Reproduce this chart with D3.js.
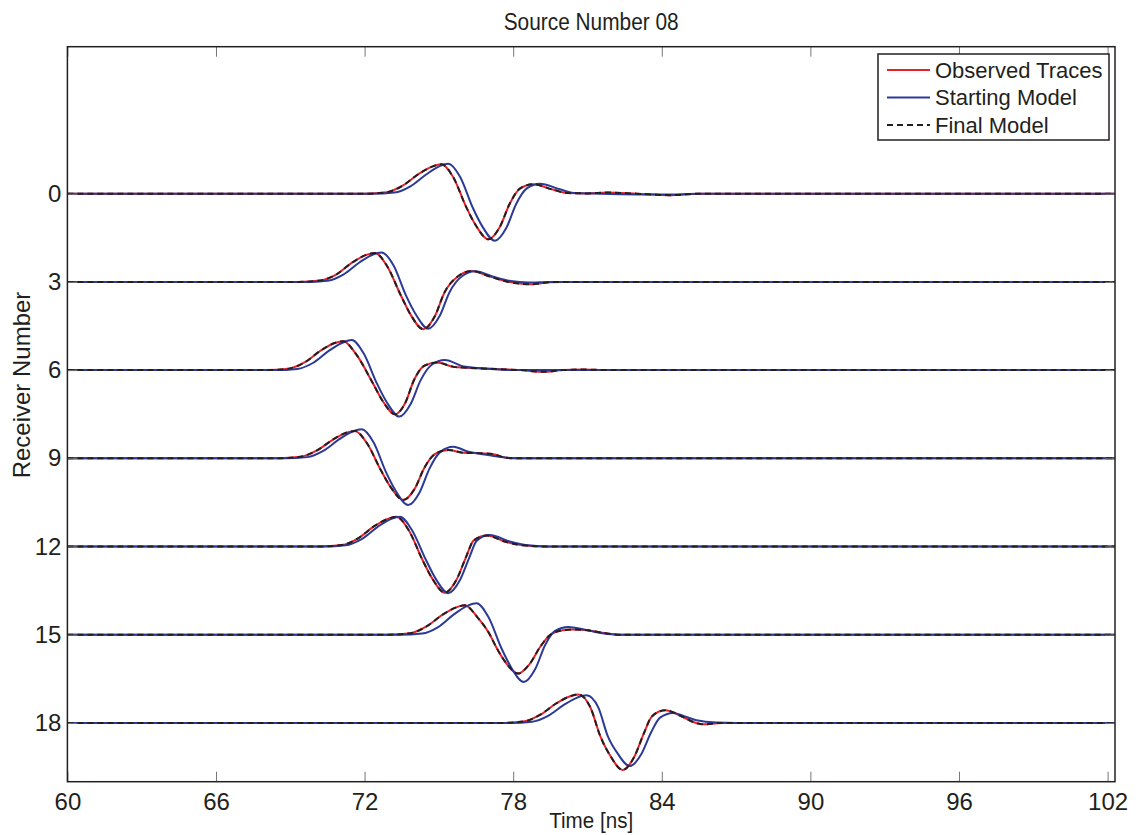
<!DOCTYPE html>
<html>
<head>
<meta charset="utf-8">
<script src="https://cdn.jsdelivr.net/npm/d3@7"></script>
<style>
  body { margin: 0; background: #fff; }
  svg text { font-family: "Liberation Sans", Arial, Helvetica, sans-serif; fill: #231f20; }
</style>
</head>
<body>
<div id="chart"></div>
<script>
// receiver numbers, one trace each
const receivers = [0, 3, 6, 9, 12, 15, 18];
const xTicks = [60, 66, 72, 78, 84, 90, 96, 102];
const yTicks = [0, 3, 6, 9, 12, 15, 18];

// observed traces [time ns, amplitude]
const observed = [
  [[60,0],[72.0,0],[72.9,0.05],[73.55,0.28],[74.2,0.68],[74.75,0.93],[75.1,1.0],[75.58,0.56],[76.1,-0.45],[76.5,-1.09],[77.0,-1.55],[77.46,-1.13],[77.86,-0.34],[78.27,0.17],[78.8,0.32],[79.6,0.14],[80.2,0.02],[81.0,0.01],[81.8,0.04],[83.0,0],[84.3,-0.05],[85.5,0],[102.3,0]],
  [[60,0],[69.32,0],[70.22,0.05],[70.87,0.26],[71.52,0.67],[72.07,0.92],[72.42,0.985],[72.9,0.55],[73.47,-0.47],[73.87,-1.13],[74.37,-1.61],[74.83,-1.18],[75.23,-0.35],[75.79,0.2],[76.32,0.37],[77.1,0.17],[77.7,0.02],[78.68,-0.08],[79.5,-0.01],[80.0,0],[102.3,0]],
  [[60,0],[68.04,0],[68.94,0.05],[69.59,0.27],[70.24,0.67],[70.79,0.92],[71.14,0.985],[71.65,0.55],[72.33,-0.44],[72.73,-1.05],[73.23,-1.5],[73.65,-1.1],[74.0,-0.33],[74.4,0.14],[74.91,0.26],[75.6,0.11],[76.1,0.08],[77.46,0.03],[78.3,0],[79.2,-0.06],[80.0,0],[80.8,0.02],[81.8,0],[102.3,0]],
  [[60,0],[68.51,0],[69.41,0.05],[70.06,0.26],[70.71,0.63],[71.26,0.87],[71.61,0.93],[72.09,0.52],[72.66,-0.41],[73.06,-0.99],[73.56,-1.42],[74.02,-1.04],[74.42,-0.31],[74.85,0.15],[75.38,0.28],[76.0,0.19],[76.7,0.17],[77.2,0.14],[77.7,0.02],[78.2,0],[102.3,0]],
  [[60,0],[70.19,0],[71.09,0.05],[71.74,0.28],[72.39,0.69],[72.94,0.94],[73.29,1.01],[73.77,0.57],[74.34,-0.46],[74.74,-1.1],[75.24,-1.57],[75.7,-1.15],[76.1,-0.35],[76.4,0.2],[76.93,0.37],[77.73,0.15],[78.4,0.04],[79.3,0],[102.3,0]],
  [[60,0],[72.95,0],[73.85,0.05],[74.5,0.28],[75.15,0.68],[75.7,0.93],[76.05,1.0],[76.55,0.6],[77.06,0],[77.3,-0.4],[77.7,-0.95],[78.2,-1.32],[78.66,-1.0],[79.1,-0.4],[79.5,0],[80.0,0.15],[80.42,0.18],[80.9,0.16],[81.6,0.07],[82.3,0],[102.3,0]],
  [[60,0],[77.53,0],[78.43,0.05],[79.08,0.27],[79.73,0.66],[80.28,0.9],[80.63,0.97],[81.11,0.54],[81.52,-0.46],[81.92,-1.12],[82.42,-1.6],[82.88,-1.17],[83.28,-0.35],[83.6,0.22],[84.13,0.43],[84.86,0.2],[85.3,0.02],[85.67,-0.05],[86.4,0],[102.3,0]]
];

// starting model traces
const starting = [
  [[60,0],[72.3,0],[73.2,0.04],[73.85,0.25],[74.5,0.66],[75.03,0.94],[75.38,1.02],[75.86,0.57],[76.36,-0.46],[76.76,-1.12],[77.26,-1.6],[77.72,-1.17],[78.12,-0.35],[78.55,0.18],[79.08,0.34],[79.88,0.15],[80.5,0.02],[81.5,0],[84.3,-0.03],[85.5,0],[102.3,0]],
  [[60,0],[69.59,0],[70.49,0.04],[71.14,0.25],[71.79,0.66],[72.34,0.93],[72.69,1.0],[73.17,0.56],[73.67,-0.46],[74.07,-1.11],[74.57,-1.59],[75.03,-1.16],[75.43,-0.35],[75.93,0.19],[76.46,0.36],[77.26,0.16],[77.9,0.03],[78.6,-0.02],[79.5,0],[102.3,0]],
  [[60,0],[68.38,0],[69.28,0.04],[69.93,0.25],[70.58,0.67],[71.13,0.94],[71.48,1.02],[71.96,0.57],[72.5,-0.46],[72.9,-1.1],[73.4,-1.58],[73.86,-1.15],[74.26,-0.35],[74.71,0.18],[75.24,0.34],[76.0,0.12],[76.6,0.07],[77.6,0.01],[78.5,0],[102.3,0]],
  [[60,0],[68.78,0],[69.68,0.04],[70.33,0.25],[70.98,0.65],[71.53,0.92],[71.88,0.99],[72.36,0.55],[72.86,-0.46],[73.26,-1.11],[73.76,-1.59],[74.22,-1.16],[74.62,-0.35],[75.05,0.21],[75.58,0.39],[76.2,0.22],[76.7,0.15],[77.3,0.07],[77.9,0.01],[78.5,0],[102.3,0]],
  [[60,0],[70.33,0],[71.23,0.04],[71.88,0.25],[72.53,0.67],[73.08,0.94],[73.43,1.01],[73.91,0.56],[74.48,-0.46],[74.88,-1.11],[75.38,-1.59],[75.84,-1.16],[76.24,-0.35],[76.53,0.2],[77.06,0.39],[77.86,0.17],[78.5,0.05],[79.4,0],[102.3,0]],
  [[60,0],[73.42,0],[74.32,0.04],[74.97,0.26],[75.62,0.7],[76.17,0.99],[76.52,1.07],[77.0,0.6],[77.53,-0.47],[77.93,-1.13],[78.43,-1.61],[78.89,-1.17],[79.29,-0.35],[79.69,0.13],[80.22,0.26],[80.9,0.17],[81.6,0.05],[82.3,0],[102.3,0]],
  [[60,0],[77.86,0],[78.76,0.04],[79.41,0.24],[80.06,0.62],[80.61,0.87],[80.96,0.94],[81.44,0.52],[81.81,-0.43],[82.21,-1.03],[82.71,-1.47],[83.17,-1.07],[83.57,-0.32],[83.93,0.18],[84.46,0.34],[85.0,0.2],[85.4,0.09],[86.2,0.01],[87.0,0],[102.3,0]]
];

// final model sits on top of the observed traces
const finalModel = observed;

const series = [
  { name: "Observed Traces", data: observed, color: "#e8202a", dash: null },
  { name: "Starting Model", data: starting, color: "#2b3a97", dash: null },
  { name: "Final Model", data: finalModel, color: "#231f20", dash: "6,4" }
];

const W = 1146, H = 835;
const svg = d3.select("#chart").append("svg")
    .attr("width", W)
    .attr("height", H);

const x = d3.scaleLinear().domain([60, 102.3]).range([67.4, 1115]);
const y = d3.scaleLinear().domain([-5, 20]).range([46.7, 781.7]);

const pLeft = x.range()[0], pRight = x.range()[1];
const pTop = y.range()[0], pBottom = y.range()[1];

// clip the traces to the axes box
svg.append("clipPath").attr("id", "clip")
    .append("rect")
    .attr("x", pLeft).attr("y", pTop)
    .attr("width", pRight - pLeft).attr("height", pBottom - pTop);

const line = d3.line().curve(d3.curveMonotoneX);

const traces = svg.append("g").attr("clip-path", "url(#clip)");
series.forEach(s => {
    s.data.forEach((tr, i) => {
        const r = receivers[i];
        traces.append("path")
            .attr("d", line(tr.map(p => [x(p[0]), y(r - p[1])])))
            .attr("fill", "none")
            .attr("stroke", s.color)
            .attr("stroke-width", 2)
            .attr("stroke-dasharray", s.dash);
    });
});

// axes, matlab style: ticks inside, mirrored
const tickLen = 10;
svg.append("g")
    .attr("transform", `translate(0,${pBottom})`)
    .call(d3.axisBottom(x).tickValues(xTicks).tickSizeInner(-tickLen).tickSizeOuter(0))
    .call(g => g.select(".domain").remove())
    .call(g => g.selectAll("line").attr("stroke", "#777"))
    .call(g => g.selectAll("text").style("font-size", "24px").attr("y", 28).attr("dy", 0));

svg.append("g")
    .attr("transform", `translate(0,${pTop})`)
    .call(d3.axisTop(x).tickValues(xTicks).tickSizeInner(-tickLen).tickSizeOuter(0).tickFormat(""))
    .call(g => g.select(".domain").remove())
    .call(g => g.selectAll("line").attr("stroke", "#777"));

svg.append("g")
    .attr("transform", `translate(${pLeft},0)`)
    .call(d3.axisLeft(y).tickValues(yTicks).tickSizeInner(-tickLen).tickSizeOuter(0).tickPadding(6))
    .call(g => g.select(".domain").remove())
    .call(g => g.selectAll("line").attr("stroke", "#777"))
    .call(g => g.selectAll("text").style("font-size", "24px"));

svg.append("g")
    .attr("transform", `translate(${pRight},0)`)
    .call(d3.axisRight(y).tickValues(yTicks).tickSizeInner(-tickLen).tickSizeOuter(0).tickFormat(""))
    .call(g => g.select(".domain").remove())
    .call(g => g.selectAll("line").attr("stroke", "#777"));

// box
svg.append("rect")
    .attr("x", pLeft).attr("y", pTop)
    .attr("width", pRight - pLeft).attr("height", pBottom - pTop)
    .attr("fill", "none")
    .attr("stroke", "#231f20")
    .attr("stroke-width", 1.5);

// labels (the original font is a narrow helvetica)
svg.append("text")
    .attr("x", (pLeft + pRight) / 2)
    .attr("y", 30)
    .attr("text-anchor", "middle")
    .attr("textLength", 175)
    .attr("lengthAdjust", "spacingAndGlyphs")
    .style("font-size", "23px")
    .text("Source Number 08");

svg.append("text")
    .attr("x", (pLeft + pRight) / 2)
    .attr("y", 828)
    .attr("text-anchor", "middle")
    .attr("textLength", 84)
    .attr("lengthAdjust", "spacingAndGlyphs")
    .style("font-size", "22px")
    .text("Time [ns]");

svg.append("text")
    .attr("transform", `translate(30,385) rotate(-90)`)
    .attr("text-anchor", "middle")
    .style("font-size", "24px")
    .text("Receiver Number");

// legend
const lg = svg.append("g");
lg.append("rect")
    .attr("x", 878).attr("y", 54)
    .attr("width", 231).attr("height", 86)
    .attr("fill", "#fff")
    .attr("stroke", "#231f20")
    .attr("stroke-width", 1.5);

series.forEach((s, i) => {
    const ly = 70 + i * 27.5;
    lg.append("line")
        .attr("x1", 887).attr("x2", 930)
        .attr("y1", ly).attr("y2", ly)
        .attr("stroke", s.color)
        .attr("stroke-width", 2)
        .attr("stroke-dasharray", s.dash);
    lg.append("text")
        .attr("x", 935)
        .attr("y", ly)
        .attr("dy", "0.35em")
        .style("font-size", "22px")
        .text(s.name);
});
</script>
</body>
</html>
